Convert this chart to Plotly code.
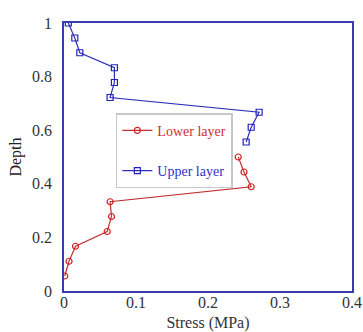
import plotly.graph_objects as go

upper_stress = [0.006, 0.015, 0.022, 0.070, 0.070, 0.064, 0.271, 0.260, 0.253]
upper_depth = [1.0, 0.944, 0.889, 0.833, 0.778, 0.722, 0.667, 0.611, 0.556]
lower_stress = [0.242, 0.250, 0.260, 0.064, 0.066, 0.060, 0.016, 0.007, 0.001]
lower_depth = [0.5, 0.444, 0.389, 0.333, 0.278, 0.222, 0.167, 0.111, 0.056]

x_ticks = [0, 0.1, 0.2, 0.3, 0.4]
x_tick_text = ["0", "0.1", "0.2", "0.3", "0.4"]
y_ticks = [0, 0.2, 0.4, 0.6, 0.8, 1]
y_tick_text = ["0", "0.2", "0.4", "0.6", "0.8", "1"]

RED = "#cc2020"
BLUE = "#2020c0"
FONT = "Liberation Serif, Times New Roman, DejaVu Serif, serif"

fig = go.Figure()
fig.add_trace(go.Scatter(
    x=lower_stress, y=lower_depth, mode="lines+markers",
    name="<span style='color:#cc3030'>Lower layer</span>",
    legendgroup="lower",
    line=dict(color="#c03030", width=1.2),
    marker=dict(symbol="circle-open", size=6, color=RED, line=dict(width=1.2, color=RED)),
))
fig.add_trace(go.Scatter(
    x=upper_stress, y=upper_depth, mode="lines+markers",
    name="<span style='color:#3030c8'>Upper layer</span>",
    legendgroup="upper",
    line=dict(color="#3030b8", width=1.2),
    marker=dict(symbol="square-open", size=6, color=BLUE, line=dict(width=1.2, color=BLUE)),
))

axis_common = dict(
    showline=True, linecolor="#3a3ab0", linewidth=1.5, mirror=True,
    showgrid=False, zeroline=False, ticks="", automargin=False,
    tickfont=dict(family=FONT, size=16, color="#333333"),
)

fig.update_layout(
    width=363, height=332,
    margin=dict(l=64, r=11, t=23, b=41),
    paper_bgcolor="white", plot_bgcolor="white",
    font=dict(family=FONT, color="#222222"),
    xaxis=dict(range=[0, 0.4], tickvals=x_ticks, ticktext=x_tick_text,
               ticklabelstandoff=-4,
               title=dict(text="Stress (MPa)", font=dict(family=FONT, size=16, color="#333333"), standoff=9),
               **axis_common),
    yaxis=dict(range=[0, 1], tickvals=y_ticks, ticktext=y_tick_text,
               ticklabelstandoff=7,
               title=dict(text="Depth", font=dict(family=FONT, size=16, color="#222222"), standoff=6),
               **axis_common),
    legend=dict(
        x=0.18, y=0.663, xanchor="left", yanchor="top",
        bgcolor="white", bordercolor="#c8c8c8", borderwidth=1.5,
        font=dict(family=FONT, size=14), tracegroupgap=19, itemwidth=30,
    ),
    showlegend=True,
)
fig.write_html("out.html", config={"displayModeBar": False},
               post_script="document.body.style.margin='0';")
